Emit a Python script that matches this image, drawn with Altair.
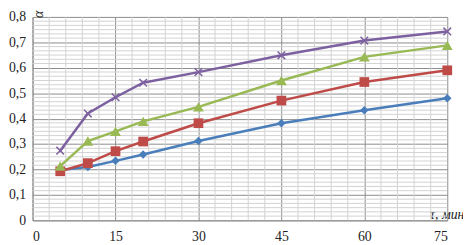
import altair as alt
import pandas as pd

times = [5, 10, 15, 20, 30, 45, 60, 75]
s_blue = [0.198, 0.210, 0.234, 0.259, 0.312, 0.382, 0.433, 0.480]
s_red = [0.193, 0.225, 0.272, 0.310, 0.382, 0.471, 0.544, 0.590]
s_green = [0.213, 0.312, 0.350, 0.389, 0.446, 0.550, 0.643, 0.688]
s_purple = [0.274, 0.420, 0.484, 0.541, 0.583, 0.649, 0.707, 0.743]

series_names = ["1", "2", "3", "4"]
series_vals = [s_blue, s_red, s_green, s_purple]
colors = ["#4A7EBB", "#BE4B48", "#98B954", "#7D60A0"]

x_major = [0, 15, 30, 45, 60, 75]
y_major = [0, 0.1, 0.2, 0.3, 0.4, 0.5, 0.6, 0.7, 0.8]
x_minor = [v for v in range(0, 76, 3) if v % 15 != 0]
y_minor = [round(i * 0.1 / 6, 5) for i in range(0, 49) if i % 6 != 0]

rows = []
for name, vals in zip(series_names, series_vals):
    for t, v in zip(times, vals):
        rows.append({"t": t, "v": v, "s": name})
df = pd.DataFrame(rows)

xs = alt.Scale(domain=[0, 75], nice=False, zero=False)
ys = alt.Scale(domain=[0, 0.8], nice=False)
cs = alt.Scale(domain=series_names, range=colors)

font = "Times New Roman, Liberation Serif, serif"

x_axis = alt.Axis(
    values=x_major, title="τ, мин", grid=True, gridColor="#8c8c8c", ticks=False,
    domainColor="#8c8c8c", labelFont=font, labelFontSize=14, labelColor="#222",
    labelPadding=10, titleFont=font, titleFontSize=14, titleFontStyle="italic",
    titleFontWeight="normal", titleColor="#222", titleX=404, titleY=-2,
    titleAlign="left", titleBaseline="alphabetic", titleAnchor="start")
y_axis = alt.Axis(
    values=y_major, title="α", grid=True, gridColor="#8c8c8c", ticks=False,
    domainColor="#8c8c8c", labelFont=font, labelFontSize=14, labelColor="#222",
    labelPadding=7,
    labelExpr="datum.value == 0 ? '0' : replace(format(datum.value, '.1f'), '.', ',')",
    titleFont=font, titleFontSize=14, titleFontStyle="italic", titleFontWeight="normal",
    titleColor="#222", titleX=6, titleY=-3, titleAngle=-90, titleAlign="center",
    titleBaseline="middle")

gx = alt.Chart(pd.DataFrame({"x": x_minor})).mark_rule(color="#d2d2d2", strokeWidth=1).encode(
    x=alt.X("x:Q", scale=xs, axis=x_axis))
gy = alt.Chart(pd.DataFrame({"y": y_minor})).mark_rule(color="#d2d2d2", strokeWidth=1).encode(
    y=alt.Y("y:Q", scale=ys, axis=y_axis))

base = alt.Chart(df).encode(
    x=alt.X("t:Q", scale=xs, axis=x_axis),
    y=alt.Y("v:Q", scale=ys, axis=y_axis),
    color=alt.Color("s:N", scale=cs, legend=None),
)

lines = base.mark_line(strokeWidth=2.5)

filled = base.transform_filter(alt.datum.s != "4").mark_point(filled=True, opacity=1).encode(
    shape=alt.Shape("s:N", scale=alt.Scale(domain=["1", "2", "3"],
                                           range=["diamond", "square", "triangle-up"]),
                    legend=None),
    size=alt.Size("s:N", scale=alt.Scale(domain=["1", "2", "3"], range=[75, 120, 95]),
                  legend=None),
)
crosses = base.transform_filter(alt.datum.s == "4").mark_point(
    shape="M-1,-1L1,1M-1,1L1,-1", filled=False, strokeWidth=1.5, size=60, opacity=1)

chart = alt.layer(gx, gy, lines, filled, crosses).properties(
    width=422, height=207,
    autosize=alt.AutoSizeParams(type="none"),
    padding={"left": 25, "top": 7, "right": 16, "bottom": 23},
).configure_view(stroke=None)

chart.save("out.html", embed_options={"renderer": "svg", "actions": False})
